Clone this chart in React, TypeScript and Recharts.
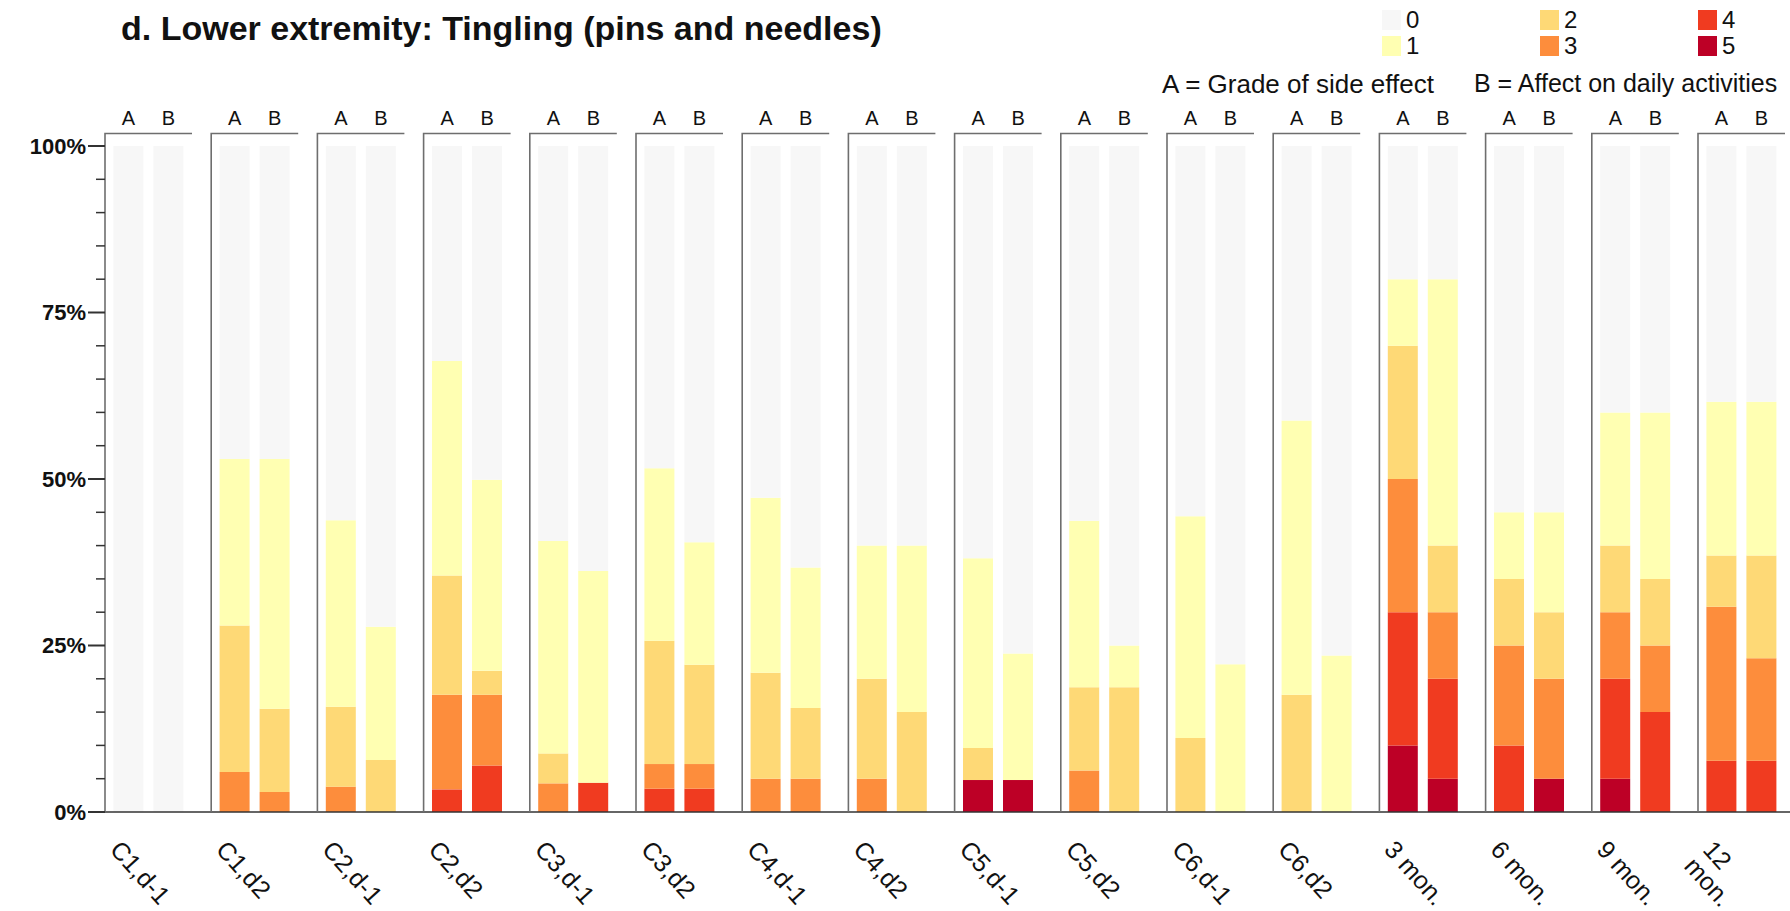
import React from "react";
import { BarChart, Bar, XAxis, YAxis } from "recharts";

// categories on the x axis
const categories = [
  "C1,d-1",
  "C1,d2",
  "C2,d-1",
  "C2,d2",
  "C3,d-1",
  "C3,d2",
  "C4,d-1",
  "C4,d2",
  "C5,d-1",
  "C5,d2",
  "C6,d-1",
  "C6,d2",
  "3 mon.",
  "6 mon.",
  "9 mon.",
  "12 mon.",
];

// A = grade of side effect (% of patients per grade)
const gradeA0 = [100, 47, 56.2, 32.3, 59.3, 48.4, 52.8, 60, 61.9, 56.25, 55.6, 41.2, 20, 55, 40, 38.4];
const gradeA1 = [0, 25, 28, 32.2, 31.9, 25.9, 26.3, 20, 28.5, 25, 33.3, 41.2, 10, 10, 20, 23.1];
const gradeA2 = [0, 22, 12, 17.9, 4.5, 18.5, 15.9, 15, 4.8, 12.5, 11.1, 17.6, 20, 10, 10, 7.7];
const gradeA3 = [0, 6, 3.8, 14.2, 4.3, 3.7, 5, 5, 0, 6.25, 0, 0, 20, 15, 10, 23.1];
const gradeA4 = [0, 0, 0, 3.4, 0, 3.5, 0, 0, 0, 0, 0, 0, 20, 10, 15, 7.7];
const gradeA5 = [0, 0, 0, 0, 0, 0, 0, 0, 4.8, 0, 0, 0, 10, 0, 5, 0];

// B = affect on daily activities
const gradeB0 = [100, 47, 72.2, 50.1, 63.8, 59.5, 63.3, 60, 76.2, 75, 77.8, 76.5, 20, 55, 40, 38.4];
const gradeB1 = [0, 37.5, 20, 28.7, 31.8, 18.4, 21.1, 25, 19, 6.25, 22.2, 23.5, 40, 15, 25, 23.1];
const gradeB2 = [0, 12.5, 7.8, 3.6, 0, 14.9, 10.6, 15, 0, 18.75, 0, 0, 10, 10, 10, 15.4];
const gradeB3 = [0, 3, 0, 10.6, 0, 3.7, 5, 0, 0, 0, 0, 0, 10, 15, 10, 15.4];
const gradeB4 = [0, 0, 0, 7, 4.4, 3.5, 0, 0, 0, 0, 0, 0, 15, 0, 15, 7.7];
const gradeB5 = [0, 0, 0, 0, 0, 0, 0, 0, 4.8, 0, 0, 0, 5, 5, 0, 0];

const gradeLabels = ["0", "1", "2", "3", "4", "5"];
const gradeColors = ["#f7f7f7", "#ffffb2", "#fed976", "#fd8d3c", "#f03b20", "#bd0026"];
const yTicks = [0, 5, 10, 15, 20, 25, 30, 35, 40, 45, 50, 55, 60, 65, 70, 75, 80, 85, 90, 95, 100];

const gradesA = [gradeA0, gradeA1, gradeA2, gradeA3, gradeA4, gradeA5];
const gradesB = [gradeB0, gradeB1, gradeB2, gradeB3, gradeB4, gradeB5];

const data = categories.map((name, i) => {
  const row: Record<string, string | number> = { name };
  gradesA.forEach((g, k) => (row[`a${k}`] = g[i]));
  gradesB.forEach((g, k) => (row[`b${k}`] = g[i]));
  return row;
});

// layout
const CHART_W = 1800;
const CHART_H = 911;
const PLOT_LEFT = 95.4;
const PLOT_TOP = 146;
const PLOT_BOTTOM = 812;
const BAND = 106.2;
const PANEL_HALF = 43.5;
const FRAME_TOP = 133.5;
const Y_AXIS_W = 60;
const AXIS_X = PLOT_LEFT + BAND / 2 - PANEL_HALF;
const FONT = "'Liberation Sans', Arial, sans-serif";

const XTick = (props: any) => {
  const { x, payload } = props;
  const label: string = payload.value;
  const lines = label === "12 mon." ? ["12", "mon."] : [label];
  return (
    <g>
      <path
        d={`M${x - PANEL_HALF},${PLOT_BOTTOM} V${FRAME_TOP} H${x + PANEL_HALF}`}
        fill="none"
        stroke="#6e6e6e"
        strokeWidth={1.6}
      />
      <text x={x - 20} y={125} textAnchor="middle" fontSize={20} fill="#111" fontFamily={FONT}>
        A
      </text>
      <text x={x + 20} y={125} textAnchor="middle" fontSize={20} fill="#111" fontFamily={FONT}>
        B
      </text>
      <text
        transform={`translate(${x - 25},${837}) rotate(48)`}
        fontSize={25}
        fill="#111"
        fontFamily={FONT}
      >
        {lines.map((l, k) => (
          <tspan key={k} x={0} dy={k === 0 ? "0.8em" : "1.0em"}>
            {l}
          </tspan>
        ))}
      </text>
    </g>
  );
};

const YTick = (props: any) => {
  const { y, payload } = props;
  const v = payload.value;
  const major = v % 25 === 0;
  return (
    <g>
      <line
        x1={AXIS_X - (major ? 17 : 9)}
        x2={AXIS_X}
        y1={y}
        y2={y}
        stroke="#333"
        strokeWidth={major ? 2 : 1.5}
      />
      {major && (
        <text
          x={AXIS_X - 19}
          y={y}
          dy="0.36em"
          textAnchor="end"
          fontWeight="bold"
          fontSize={22}
          fill="#111"
          fontFamily={FONT}
        >
          {v}%
        </text>
      )}
    </g>
  );
};

const legendCols = [1382, 1540, 1698];

export default function App() {
  return (
    <div
      style={{
        position: "absolute",
        left: 0,
        top: 0,
        width: 1790,
        height: 911,
        overflow: "hidden",
        background: "#fff",
        fontFamily: FONT,
        color: "#111",
      }}
    >
      <div
        style={{
          position: "absolute",
          left: 121,
          top: 11,
          fontSize: 34,
          fontWeight: "bold",
          lineHeight: 1,
          whiteSpace: "nowrap",
        }}
      >
        d. Lower extremity: Tingling (pins and needles)
      </div>

      {gradeLabels.map((g, k) => (
        <div
          key={g}
          style={{
            position: "absolute",
            left: legendCols[Math.floor(k / 2)],
            top: k % 2 === 0 ? 8 : 34,
            display: "flex",
            alignItems: "center",
            fontSize: 24,
            lineHeight: 1,
          }}
        >
          <span style={{ width: 19, height: 20, background: gradeColors[k], display: "inline-block", marginRight: 5 }} />
          {g}
        </div>
      ))}
      <div style={{ position: "absolute", left: 1162, top: 71, fontSize: 26, lineHeight: 1, whiteSpace: "nowrap" }}>
        A = Grade of side effect
      </div>
      <div style={{ position: "absolute", left: 1474, top: 71, fontSize: 25, lineHeight: 1, whiteSpace: "nowrap" }}>
        B = Affect on daily activities
      </div>

      <BarChart
        width={CHART_W}
        height={CHART_H}
        data={data}
        margin={{
          top: PLOT_TOP,
          left: PLOT_LEFT - Y_AXIS_W,
          right: CHART_W - PLOT_LEFT - BAND * categories.length,
          bottom: CHART_H - PLOT_BOTTOM - 30,
        }}
        barSize={30}
        barGap={10}
        style={{ position: "absolute", left: 0, top: 0 }}
      >
        <XAxis
          dataKey="name"
          height={30}
          interval={0}
          tickLine={false}
          axisLine={{ stroke: "#333", strokeWidth: 1.5 }}
          tick={<XTick />}
        />
        <YAxis
          width={Y_AXIS_W}
          domain={[0, 100]}
          allowDataOverflow
          ticks={yTicks}
          interval={0}
          axisLine={false}
          tickLine={false}
          tick={<YTick />}
        />
        {[5, 4, 3, 2, 1, 0].map((k) => (
          <Bar key={`a${k}`} dataKey={`a${k}`} stackId="A" fill={gradeColors[k]} isAnimationActive={false} />
        ))}
        {[5, 4, 3, 2, 1, 0].map((k) => (
          <Bar key={`b${k}`} dataKey={`b${k}`} stackId="B" fill={gradeColors[k]} isAnimationActive={false} />
        ))}
      </BarChart>
    </div>
  );
}
